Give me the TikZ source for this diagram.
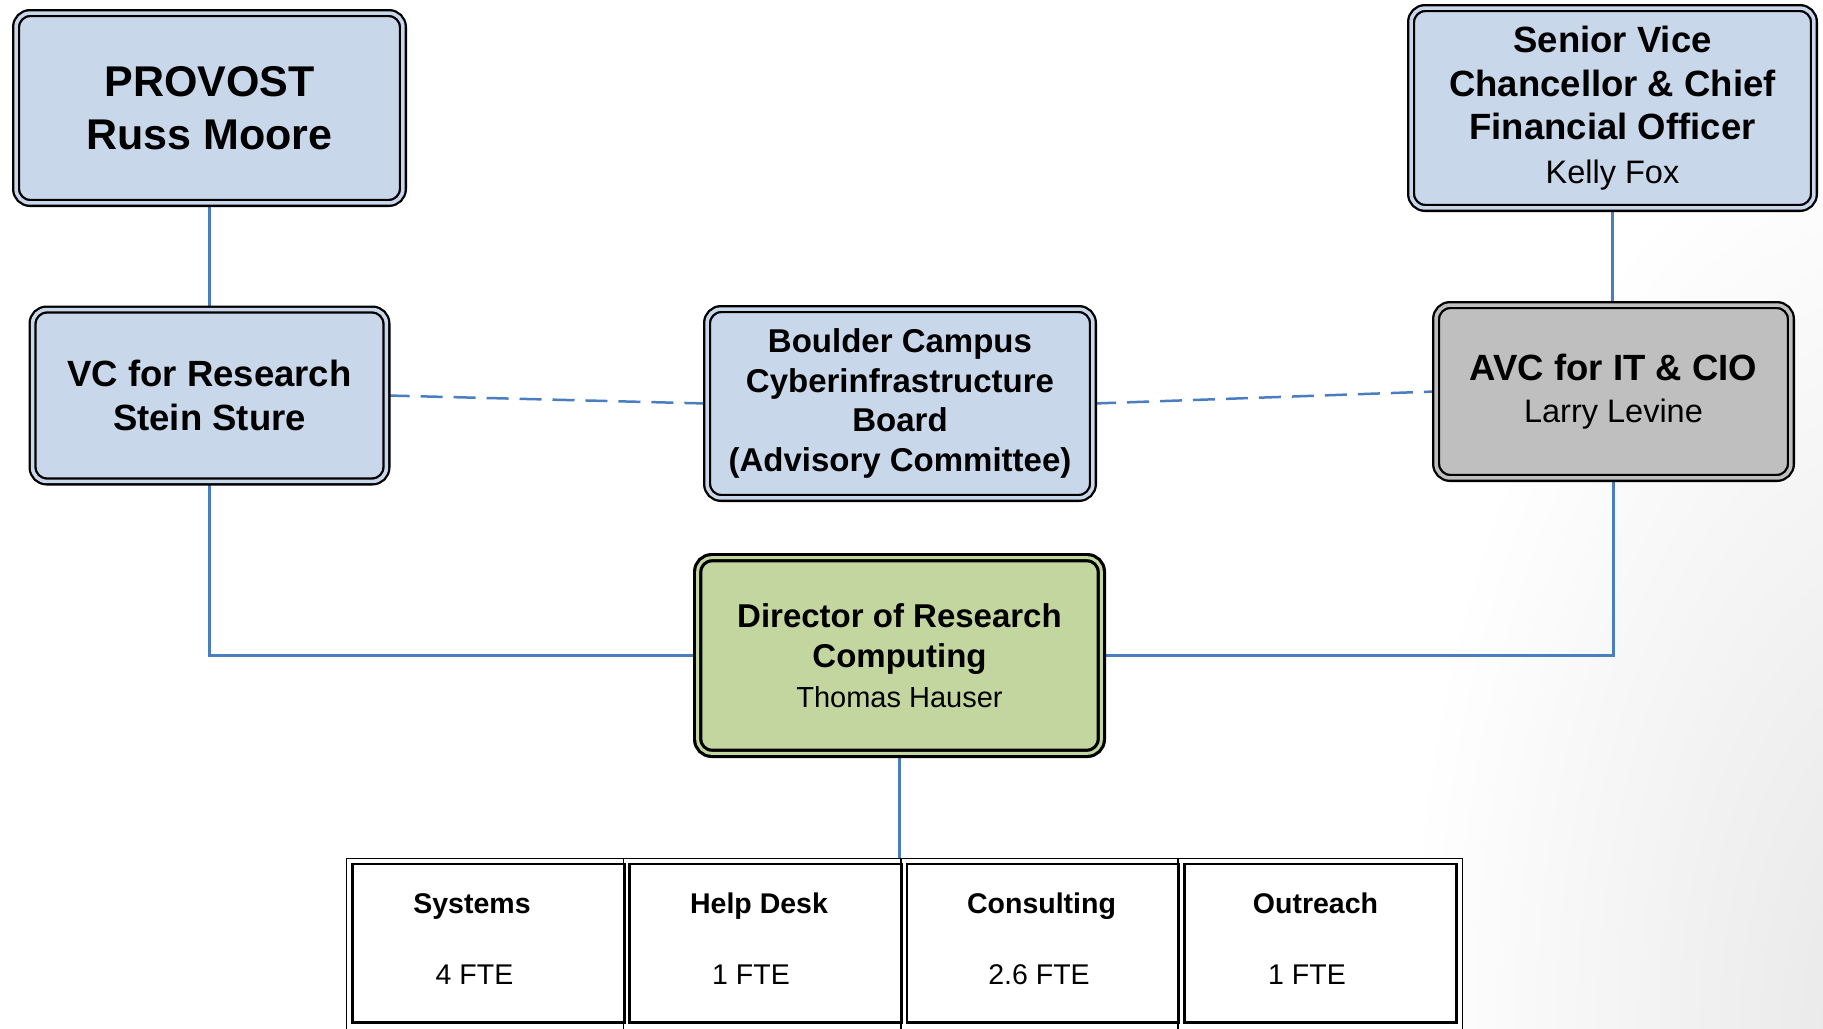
\documentclass[tikz,border=0pt]{standalone}
\usepackage{fontspec}
\setmainfont{Liberation Sans}
\usetikzlibrary{calc}
\definecolor{boxblue}{RGB}{201,215,234}
\definecolor{boxgray}{RGB}{191,191,191}
\definecolor{boxgreen}{RGB}{196,214,160}
\definecolor{linkblue}{RGB}{74,126,193}
\pgfdeclarelayer{back}
\pgfdeclarelayer{links}
\pgfsetlayers{back,links,main}
\begin{document}
\begin{tikzpicture}[x=1pt,y=-1pt,
  orgbox/.style={draw=black, line width=2.3pt, double=#1, double distance=3.6pt, fill=#1, rounded corners=14pt, inner sep=0pt, align=center},
  link/.style={draw=linkblue, line width=2.5pt},
  dashlink/.style={link, dash pattern=on 22pt off 11pt},
  cellbox/.style={draw=black, line width=1.6pt, fill=white, minimum width=284.5pt, minimum height=182.5pt, inner sep=0pt, anchor=north west},
  cellinner/.style={draw=black, line width=2.8pt},
  head/.style={font=\bfseries\fontsize{28.5}{34}\selectfont, inner sep=0pt, anchor=base},
  fte/.style={font=\fontsize{28.5}{34}\selectfont, inner sep=0pt, anchor=base},
]
\useasboundingbox (0,0) rectangle (1823,1028);
\begin{pgfonlayer}{back}
\begin{scope}
\clip (0,0) rectangle (1823,1028);
\shade[inner color=black!10, outer color=white] (1923,1028) ellipse (520 and 950);
\end{scope}
\end{pgfonlayer}

\node[orgbox=boxblue, minimum width=386.8pt, minimum height=189.8pt, font=\bfseries\fontsize{43}{53}\selectfont] (provost) at (209.5,108) {PROVOST\\Russ Moore};

\node[orgbox=boxblue, minimum width=353.8pt, minimum height=171.8pt, font=\bfseries\fontsize{36.5}{44}\selectfont] (vc) at (209.5,395.5) {VC for Research\\Stein Sture};

\node[orgbox=boxblue, minimum width=385.8pt, minimum height=188.8pt, font=\bfseries\fontsize{33}{39.5}\selectfont] (board) at (900,403.5) {Boulder Campus\\Cyberinfrastructure\\Board\\(Advisory Committee)};

\node[orgbox=boxblue, minimum width=402.8pt, minimum height=199.8pt, font=\bfseries\fontsize{36.5}{43.6}\selectfont] (svc) at (1612.5,108) {Senior Vice\\Chancellor \& Chief\\Financial Officer\\\mdseries\fontsize{32.5}{39.5}\selectfont Kelly Fox};

\node[orgbox=boxgray, minimum width=354.8pt, minimum height=172.8pt, font=\bfseries\fontsize{36.5}{42}\selectfont] (avc) at (1613.5,391.5) {AVC for IT \& CIO\\\mdseries\fontsize{32.5}{42}\selectfont Larry Levine};

\node[orgbox=boxgreen, line width=3.2pt, double distance=3pt, minimum width=403.6pt, minimum height=195.6pt, font=\bfseries\fontsize{33}{40}\selectfont] (dir) at (899.5,655.5) {Director of Research\\Computing\\\mdseries\fontsize{29}{34.5}\selectfont Thomas Hauser};

% bottom cells
\node[cellbox] (c1) at (345.5,857.5) {};
\node[cellbox] (c2) at (622.7,857.5) {};
\node[cellbox] (c3) at (899.9,857.5) {};
\node[cellbox] (c4) at (1177.1,857.5) {};
\foreach \c in {c1,c2,c3,c4}{
  \draw[cellinner] ($(\c.north west)+(7,6.5)$) rectangle ($(\c.north east)+(-7,165)$);
}
\node[head] (t1) at (472,913) {Systems};
\node[fte] (f1) at (474.5,984) {4 FTE};
\node[head] (t2) at (759,913) {Help Desk};
\node[fte] (f2) at (751,984) {1 FTE};
\node[head] (t3) at (1041.5,913) {Consulting};
\node[fte] (f3) at (1039,984) {2.6 FTE};
\node[head] (t4) at (1315.5,913) {Outreach};
\node[fte] (f4) at (1307,984) {1 FTE};

\begin{pgfonlayer}{links}
\draw[link] (provost.south) -- (provost.south |- vc.north);
\draw[link] (svc.south) -- (svc.south |- avc.north);
\draw[link] (vc.south) |- (dir.west);
\draw[link] (avc.south) |- (dir.east);
\draw[link] (dir.south) -- (dir.south |- c3.north);
\draw[dashlink] (vc.east) -- (board.west);
\draw[dashlink] (board.east) -- (avc.west);
\end{pgfonlayer}
\end{tikzpicture}
\end{document}
